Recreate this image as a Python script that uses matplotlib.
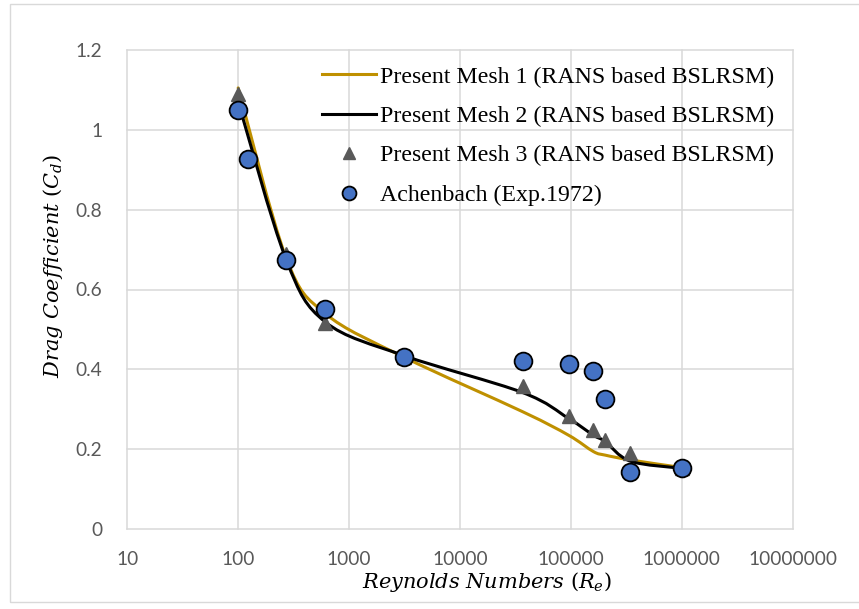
import numpy as np
import matplotlib
matplotlib.use("Agg")
import matplotlib.pyplot as plt
from matplotlib.path import Path
from matplotlib.patches import PathPatch, Rectangle
from matplotlib.lines import Line2D
from matplotlib.ticker import FixedLocator, FixedFormatter, NullLocator

# ---------------- data ----------------
re_mesh1 = [100, 270, 608, 3160, 36700, 95500, 160000, 205000, 344000, 1000000]
cd_mesh1 = [1.105, 0.680, 0.540, 0.430, 0.294, 0.235, 0.194, 0.185, 0.173, 0.154]

re_mesh2 = [100, 270, 608, 3160, 36700, 95500, 160000, 205000, 344000, 1000000]
cd_mesh2 = [1.070, 0.676, 0.519, 0.434, 0.342, 0.277, 0.235, 0.219, 0.170, 0.152]

re_mesh3 = [100, 270, 608, 3160, 36700, 95500, 160000, 205000, 344000, 1000000]
cd_mesh3 = [1.090, 0.690, 0.515, 0.432, 0.357, 0.283, 0.248, 0.223, 0.191, 0.152]

re_exp = [100, 123, 270, 608, 3160, 36700, 95500, 160000, 205000, 344000, 1000000]
cd_exp = [1.050, 0.926, 0.674, 0.550, 0.432, 0.421, 0.413, 0.397, 0.326, 0.142, 0.154]

x_ticks = [10, 100, 1000, 10000, 100000, 1000000, 10000000]
x_tick_labels = ["10", "100", "1000", "10000", "100000", "1000000", "10000000"]
y_ticks = [0, 0.2, 0.4, 0.6, 0.8, 1.0, 1.2]
y_tick_labels = ["0", "0.2", "0.4", "0.6", "0.8", "1", "1.2"]

labels = ["Present Mesh 1 (RANS based BSLRSM)",
          "Present Mesh 2 (RANS based BSLRSM)",
          "Present Mesh 3 (RANS based BSLRSM)",
          "Achenbach (Exp.1972)"]

# ---------------- style ----------------
W, H, DPI = 859, 609, 100
GOLD = "#BF9000"
BLUE = "#4472C4"
TRI = "#595959"
GRID = "#D9D9D9"
TICKC = "#595959"

plt.rcParams["mathtext.fontset"] = "dejavuserif"

fig = plt.figure(figsize=(W / DPI, H / DPI), dpi=DPI)
fig.patch.set_facecolor("white")

# outer chart border
fig.add_artist(Rectangle((10 / W, 1 - 602 / H), 1.2, (602 - 4) / H,
                         transform=fig.transFigure, fill=False,
                         edgecolor=GRID, lw=1.0))

L, R, T, B = 127.3, 792.5, 50, 529
ax = fig.add_axes([L / W, 1 - B / H, (R - L) / W, (B - T) / H])
ax.set_xscale("log")
ax.set_xlim(10, 1e7)
ax.set_ylim(0, 1.2)

for s in ax.spines.values():
    s.set_visible(False)

ax.xaxis.set_major_locator(FixedLocator(x_ticks))
ax.xaxis.set_major_formatter(FixedFormatter(x_tick_labels))
ax.xaxis.set_minor_locator(NullLocator())
ax.yaxis.set_major_locator(FixedLocator(y_ticks))
ax.yaxis.set_major_formatter(FixedFormatter(y_tick_labels))
ax.tick_params(axis="both", length=0, labelcolor=TICKC, labelsize=13.8)
ax.tick_params(axis="x", pad=16)
ax.tick_params(axis="y", pad=18)
for lab in ax.get_xticklabels() + ax.get_yticklabels():
    lab.set_fontfamily("Lato")

for xv in x_ticks:
    ax.axvline(xv, color=GRID, lw=1.1, zorder=0, clip_on=False)
for yv in y_ticks:
    ax.axhline(yv, color=GRID, lw=1.1, zorder=0, clip_on=False)


def smooth_path(xs, ys):
    lx = np.log10(np.asarray(xs, float))
    ys = np.asarray(ys, float)
    P = np.column_stack([lx, ys])
    n = len(P)
    verts = [P[0]]
    codes = [Path.MOVETO]
    for i in range(n - 1):
        p0 = P[max(i - 1, 0)]
        p1 = P[i]
        p2 = P[i + 1]
        p3 = P[min(i + 2, n - 1)]
        c1 = p1 + (p2 - p0) / 6.0
        c2 = p2 - (p3 - p1) / 6.0
        verts += [c1, c2, p2]
        codes += [Path.CURVE4] * 3
    V = np.array(verts)
    V[:, 0] = 10 ** V[:, 0]
    return Path(V, codes)


ax.add_patch(PathPatch(smooth_path(re_mesh1, cd_mesh1), fill=False,
                       edgecolor=GOLD, lw=2.2, zorder=2, capstyle="round",
                       joinstyle="round"))
ax.add_patch(PathPatch(smooth_path(re_mesh2, cd_mesh2), fill=False,
                       edgecolor="black", lw=2.2, zorder=3, capstyle="round",
                       joinstyle="round"))
ax.plot(re_mesh3, cd_mesh3, linestyle="none", marker="^", ms=10.5,
        color=TRI, mec=TRI, zorder=4)
ax.plot(re_exp, cd_exp, linestyle="none", marker="o", ms=12.8,
        mfc=BLUE, mec="black", mew=1.3, zorder=5)

handles = [Line2D([], [], color=GOLD, lw=2.2),
           Line2D([], [], color="black", lw=2.2),
           Line2D([], [], linestyle="none", marker="^", ms=9, color=TRI),
           Line2D([], [], linestyle="none", marker="o", ms=10, mfc=BLUE,
                  mec="black", mew=1.3)]
leg = ax.legend(handles, labels, loc="upper left",
                bbox_to_anchor=(322 / W, 1 - 66 / H),
                bbox_transform=fig.transFigure, frameon=False,
                prop={"family": "Liberation Serif", "size": 17.2},
                handlelength=2.26, handletextpad=0.17, labelspacing=0.74,
                borderaxespad=0, borderpad=0)

fig.text(53 / W, 1 - 266 / H, r"$Drag\ Coefficient\ (C_d)$",
         rotation=90, ha="center", va="center", fontsize=15)
fig.text(487 / W, 1 - 582 / H, r"$Reynolds\ Numbers\ (R_e)$",
         ha="center", va="center", fontsize=15)

fig.savefig("out.png", dpi=DPI, facecolor="white")
